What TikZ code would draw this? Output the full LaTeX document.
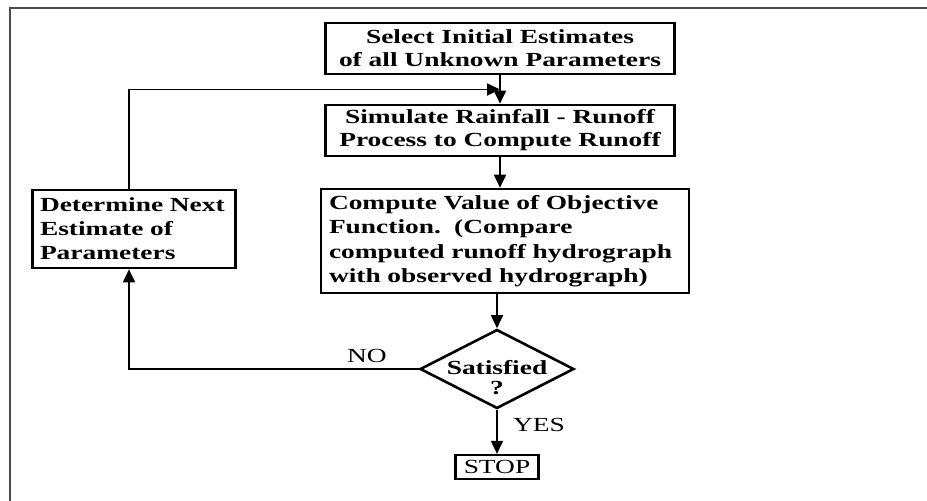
\documentclass[tikz,border=0pt]{standalone}
\usepackage{fontspec}
\setmainfont{Liberation Serif}[FakeStretch=1.37]
\usetikzlibrary{arrows.meta,shapes.geometric,calc}
\begin{document}
\begin{tikzpicture}[x=1pt,y=-1pt,
  box/.style={draw=black, line width=2.6pt, font=\bfseries\fontsize{20}{23}\selectfont, inner sep=0pt},
  conn/.style={line width=1.8pt, -{Triangle[length=13pt,width=12pt]}},
  lbl/.style={font=\fontsize{20}{24}\selectfont, inner sep=0pt}]
\useasboundingbox (0,0) rectangle (927,501);
\draw[line width=2pt, draw=black!70] (10,501) -- (10,8) -- (927,8);

\node[box, minimum width=349pt, minimum height=51pt, align=center] (init) at (500,48.5)
  {Select Initial Estimates\\of all Unknown Parameters};
\node[box, minimum width=349pt, minimum height=51pt, align=center] (sim) at (500,130.5)
  {Simulate Rainfall - Runoff\\Process to Compute Runoff};
\node[box, minimum width=368pt, minimum height=104pt, text width=352pt, align=left,
  font=\bfseries\fontsize{20}{24.5}\selectfont] (comp) at (505,241)
  {Compute Value of Objective\\Function.\ \ (Compare\\computed runoff hydrograph\\with observed hydrograph)};
\node[box, minimum width=203pt, minimum height=78pt, text width=188pt, align=left,
  font=\bfseries\fontsize{20}{24}\selectfont] (det) at (134,229)
  {Determine Next\\Estimate of\\Parameters};
\node[diamond, draw=black, line width=2.6pt, minimum width=154pt, minimum height=79pt, inner sep=0pt] (sat) at (497,369) {};
\node[font=\bfseries\fontsize{20}{20}\selectfont, align=center, inner sep=0pt] (satq) at (497,378) {Satisfied\\?};
\node[box, line width=2.2pt, font=\fontsize{20}{24}\selectfont, minimum width=83pt, minimum height=24pt] (stop) at (497,467) {STOP};

\coordinate (jn) at ($(init.south)!0.5!(sim.north)$);
\draw[conn] (init.south) -- (sim.north);
\draw[conn] (sim.south) -- (sim.south |- comp.north);
\draw[conn] (comp.south -| sat.north) -- (sat.north);
\draw[conn] (sat.south) -- (stop.north);
\draw[conn] (sat.west) -| ($(det.south)+(-5,0)$);
\draw[conn] ($(det.north)+(-5,0)$) |- (jn);

\node[lbl] (no) at (367,356) {NO};
\node[lbl] (yes) at (539,425) {YES};
\end{tikzpicture}
\end{document}
